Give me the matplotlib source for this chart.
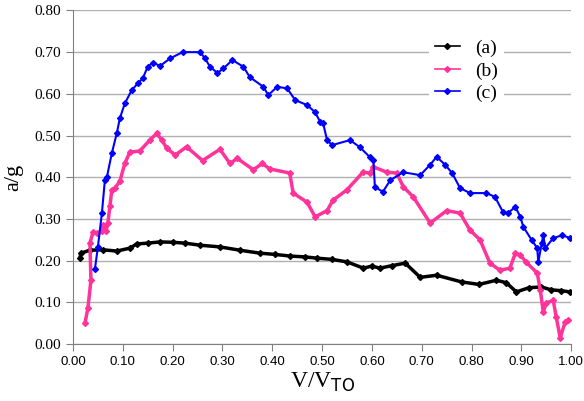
import matplotlib
matplotlib.use("Agg")
import matplotlib.pyplot as plt

# series (a) - black
va = [0.014, 0.016, 0.034, 0.06, 0.088, 0.114, 0.128, 0.15, 0.175, 0.2, 0.225, 0.255,
      0.295, 0.335, 0.375, 0.405, 0.436, 0.465, 0.49, 0.52, 0.55, 0.583, 0.60, 0.616,
      0.64, 0.667, 0.697, 0.73, 0.78, 0.815, 0.85, 0.87, 0.89, 0.915, 0.94, 0.96, 0.98, 0.998]
aa = [0.206, 0.218, 0.225, 0.226, 0.223, 0.23, 0.24, 0.242, 0.245, 0.244, 0.242, 0.237,
      0.233, 0.225, 0.218, 0.215, 0.211, 0.209, 0.206, 0.203, 0.197, 0.182, 0.187, 0.182,
      0.188, 0.194, 0.16, 0.165, 0.149, 0.143, 0.153, 0.147, 0.125, 0.135, 0.137, 0.13, 0.128, 0.125]

# series (b) - pink
vb = [0.024, 0.03, 0.036, 0.034, 0.04, 0.048, 0.058, 0.06, 0.066, 0.07, 0.074, 0.078,
      0.084, 0.094, 0.104, 0.114, 0.134, 0.155, 0.168, 0.178, 0.188, 0.205, 0.228, 0.26,
      0.295, 0.315, 0.33, 0.362, 0.38, 0.395, 0.435, 0.442, 0.47, 0.486, 0.51, 0.522,
      0.55, 0.582, 0.596, 0.603, 0.63, 0.65, 0.663, 0.683, 0.717, 0.75, 0.777, 0.797,
      0.817, 0.837, 0.857, 0.877, 0.888, 0.898, 0.91, 0.932, 0.938, 0.944, 0.95, 0.964,
      0.97, 0.978, 0.988, 0.994]
ab = [0.05, 0.087, 0.153, 0.242, 0.268, 0.266, 0.27, 0.285, 0.27, 0.29, 0.33, 0.37,
      0.374, 0.39, 0.433, 0.46, 0.463, 0.49, 0.505, 0.49, 0.47, 0.453, 0.473, 0.44,
      0.467, 0.433, 0.445, 0.418, 0.433, 0.42, 0.41, 0.362, 0.34, 0.305, 0.32, 0.345,
      0.37, 0.412, 0.41, 0.425, 0.412, 0.41, 0.377, 0.353, 0.29, 0.32, 0.314, 0.273,
      0.25, 0.194, 0.177, 0.182, 0.218, 0.213, 0.196, 0.17, 0.13, 0.077, 0.098, 0.105,
      0.065, 0.015, 0.053, 0.057]

# series (c) - blue
vc = [0.044, 0.05, 0.058, 0.064, 0.068, 0.078, 0.088, 0.094, 0.104, 0.118, 0.13, 0.14,
      0.15, 0.16, 0.175, 0.195, 0.22, 0.255, 0.265, 0.275, 0.29, 0.302, 0.32, 0.342,
      0.355, 0.382, 0.392, 0.41, 0.43, 0.446, 0.47, 0.486, 0.496, 0.502, 0.51, 0.52,
      0.556, 0.576, 0.596, 0.603, 0.606, 0.622, 0.637, 0.663, 0.697, 0.717, 0.73, 0.747,
      0.761, 0.777, 0.797, 0.83, 0.847, 0.863, 0.873, 0.888, 0.898, 0.904, 0.921, 0.932,
      0.934, 0.941, 0.944, 0.948, 0.964, 0.982, 0.998]
ac = [0.18, 0.233, 0.314, 0.393, 0.4, 0.458, 0.506, 0.541, 0.577, 0.609, 0.625, 0.637,
      0.665, 0.675, 0.667, 0.685, 0.7, 0.7, 0.685, 0.665, 0.65, 0.661, 0.681, 0.665,
      0.64, 0.617, 0.597, 0.617, 0.613, 0.585, 0.573, 0.556, 0.533, 0.53, 0.489, 0.477,
      0.489, 0.472, 0.448, 0.441, 0.377, 0.365, 0.393, 0.412, 0.405, 0.43, 0.449, 0.43,
      0.41, 0.374, 0.362, 0.362, 0.353, 0.317, 0.314, 0.329, 0.305, 0.281, 0.249, 0.23,
      0.196, 0.242, 0.261, 0.23, 0.254, 0.261, 0.254]

xticks = [i / 10 for i in range(11)]
yticks = [i / 10 for i in range(9)]

fig = plt.figure(figsize=(5.84, 4.01), dpi=100)
ax = fig.add_axes([0.125, 0.142, 0.853, 0.832])

ax.plot(va, aa, color='black', lw=2.5, marker='D', ms=3, label='(a)')
ax.plot(vb, ab, color='#FF3399', lw=2.5, marker='D', ms=3, label='(b)')
ax.plot(vc, ac, color='#0000FF', lw=1.5, marker='D', ms=3, label='(c)')

ax.set_xlim(0, 1.0)
ax.set_ylim(0, 0.8)
ax.set_xticks(xticks)
ax.set_yticks(yticks)
ax.set_xticklabels(['%.2f' % t for t in xticks])
ax.set_yticklabels(['%.2f' % t for t in yticks])
for lbl in ax.get_xticklabels():
    lbl.set_fontfamily('Liberation Sans')
    lbl.set_fontsize(9.5)
for lbl in ax.get_yticklabels():
    lbl.set_fontfamily('Liberation Serif')
    lbl.set_fontsize(11)
ax.grid(axis='y', color='#b0b0b0', lw=1)
ax.set_axisbelow(True)
for s in ['top', 'right']:
    ax.spines[s].set_visible(False)
for s in ['left', 'bottom']:
    ax.spines[s].set_color('#808080')
ax.tick_params(color='#808080', length=5)

ax.set_xlabel('V/V$_{\\mathrm{TO}}$', family='Liberation Serif', fontsize=17, labelpad=2)
ax.set_ylabel('a/g', family='Liberation Serif', fontsize=16, labelpad=8)

leg = ax.legend(loc='upper right', bbox_to_anchor=(0.885, 0.96), frameon=True,
                prop={'family': 'Liberation Serif', 'size': 14}, handlelength=1.3,
                labelspacing=0.25, borderpad=0.3)
leg.get_frame().set_edgecolor('none')
leg.get_frame().set_facecolor('white')
leg.get_frame().set_alpha(1)
for h in leg.get_lines():
    h.set_linewidth(1.2)
    h.set_markersize(3)

fig.savefig('out.png', dpi=100)
